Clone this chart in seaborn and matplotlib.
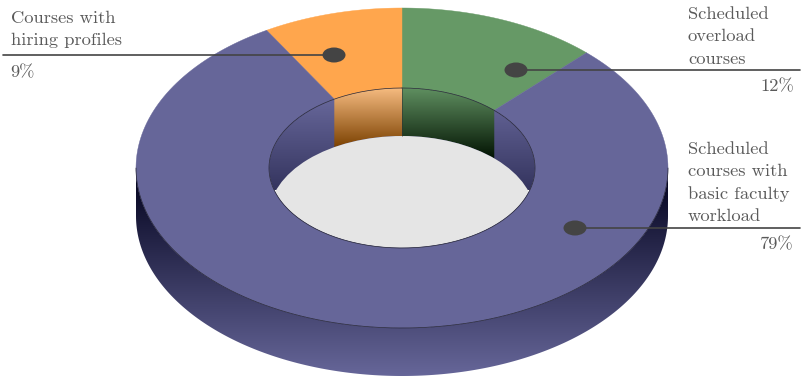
import numpy as np
import matplotlib
matplotlib.use("Agg")
import matplotlib.pyplot as plt
from matplotlib.patches import Ellipse, Polygon
import seaborn as sns

# Anteile im Uhrzeigersinn ab 12 Uhr
slice_names = ["overload", "hiring", "basic"]
slice_shares = [12.2, 8.5, 79.3]
top_colors = ["#669966", "#ffa64d", "#666699"]
wall_top = ["#5f8f60", "#f6bb80", "#666699"]
wall_bottom = ["#001000", "#7a4000", "#34345e"]
wall_end = [160, 148, 190]
label_texts = ["Scheduled\noverload\ncourses", "Courses with\nhiring profiles", "Scheduled\ncourses with\nbasic faculty\nworkload"]
pct_texts = ["12%", "9%", "79%"]

sns.set_style("white")
plt.rcParams["font.family"] = ["cmr10", "DejaVu Sans"]
plt.rcParams["axes.formatter.use_mathtext"] = True

cx, cy = 402, 168
rx, ry = 266, 160
rx_in, ry_in = 133, 80
depth = 48
text_col = "#5a5a5a"
line_col = "#444444"

fig = plt.figure(figsize=(8.04, 3.8), dpi=100)
ax = fig.add_axes([0, 0, 1, 1])


def arc(t1, t2, a, b, dy=0):
    t = np.radians(np.linspace(t1, t2, 200))
    return np.column_stack([cx + a * np.sin(t), cy + dy - b * np.cos(t)])


def gradient(path, c1, c2, y1, y2, z):
    cmap = sns.blend_palette([c1, c2], n_colors=128, as_cmap=True)
    im = ax.imshow(np.linspace(0, 1, 256).reshape(-1, 1), cmap=cmap, aspect="auto",
                   extent=[0, 804, y2, y1], zorder=z)
    path.set_transform(ax.transData)
    im.set_clip_path(path)


# Aussenwand
outer = np.vstack([arc(90, 270, rx, ry), arc(270, 90, rx, ry, depth)])
gradient(Polygon(outer), "#00001a", "#666699", 168, 376, 1)

# Innenwand
hole = Ellipse((cx, cy), 2 * rx_in, 2 * ry_in)
gradient(hole, wall_top[2], wall_bottom[2], 100, wall_end[2], 2)
for i in [0, 1]:
    t1, t2 = 0, slice_shares[0] * 3.6
    if i == 1:
        t1, t2 = -slice_shares[1] * 3.6, 0
    wall = np.vstack([arc(t1, t2, rx_in, ry_in), arc(t2, t1, rx_in, ry_in, depth)])
    gradient(Polygon(wall), wall_top[i], wall_bottom[i], 88, wall_end[i], 3)

# Boden
floor = Ellipse((cx, cy + depth), 2 * rx_in, 2 * ry_in, fc="#e5e5e5", ec="none", zorder=4)
ax.add_patch(floor)
floor.set_clip_path(Ellipse((cx, cy), 2 * rx_in, 2 * ry_in, transform=ax.transData))

# Oberseite
starts = [0, -slice_shares[1] * 3.6, slice_shares[0] * 3.6]
for start, share, col in zip(starts, slice_shares, top_colors):
    end = start + share * 3.6
    ax.fill(*np.vstack([arc(start, end, rx, ry), arc(end, start, rx_in, ry_in)]).T,
            fc=col, ec=col, lw=0.3, zorder=5)
ax.plot(*arc(0, 360, rx_in, ry_in).T, color="#222233", lw=0.5, zorder=6)
ax.plot(*arc(90, 270, rx, ry).T, color="#222233", lw=0.5, zorder=6)
ax.plot([cx, cx], [cy - ry_in, cy - ry_in + depth], color="#333333", lw=0.4, zorder=4)

# Hinweislinien und Punkte
leaders = [(516, 70, 800), (334, 55, 3), (575, 228, 800)]
for x, y, x_end in leaders:
    ax.plot([x, x_end], [y, y], color=line_col, lw=1.2, zorder=7)
    ax.add_patch(Ellipse((x, y), 23, 15, fc=line_col, ec="none", zorder=8))

fs = 13.3
ls = 1.56
ax.text(688, 63.5, label_texts[0], fontsize=fs, color=text_col, va="baseline", linespacing=ls, zorder=9)
ax.text(794, 91, pct_texts[0], fontsize=fs, color=text_col, ha="right", va="baseline", zorder=9)
ax.text(11, 45, label_texts[1], fontsize=fs, color=text_col, va="baseline", linespacing=ls, zorder=9)
ax.text(10, 77, pct_texts[1], fontsize=fs, color=text_col, va="baseline", zorder=9)
ax.text(688, 221, label_texts[2], fontsize=fs, color=text_col, va="baseline", linespacing=ls, zorder=9)
ax.text(794, 249, pct_texts[2], fontsize=fs, color=text_col, ha="right", va="baseline", zorder=9)

ax.set_xlim(0, 804)
ax.set_ylim(380, 0)
ax.axis("off")
fig.savefig("out.png", dpi=100, facecolor="white")
